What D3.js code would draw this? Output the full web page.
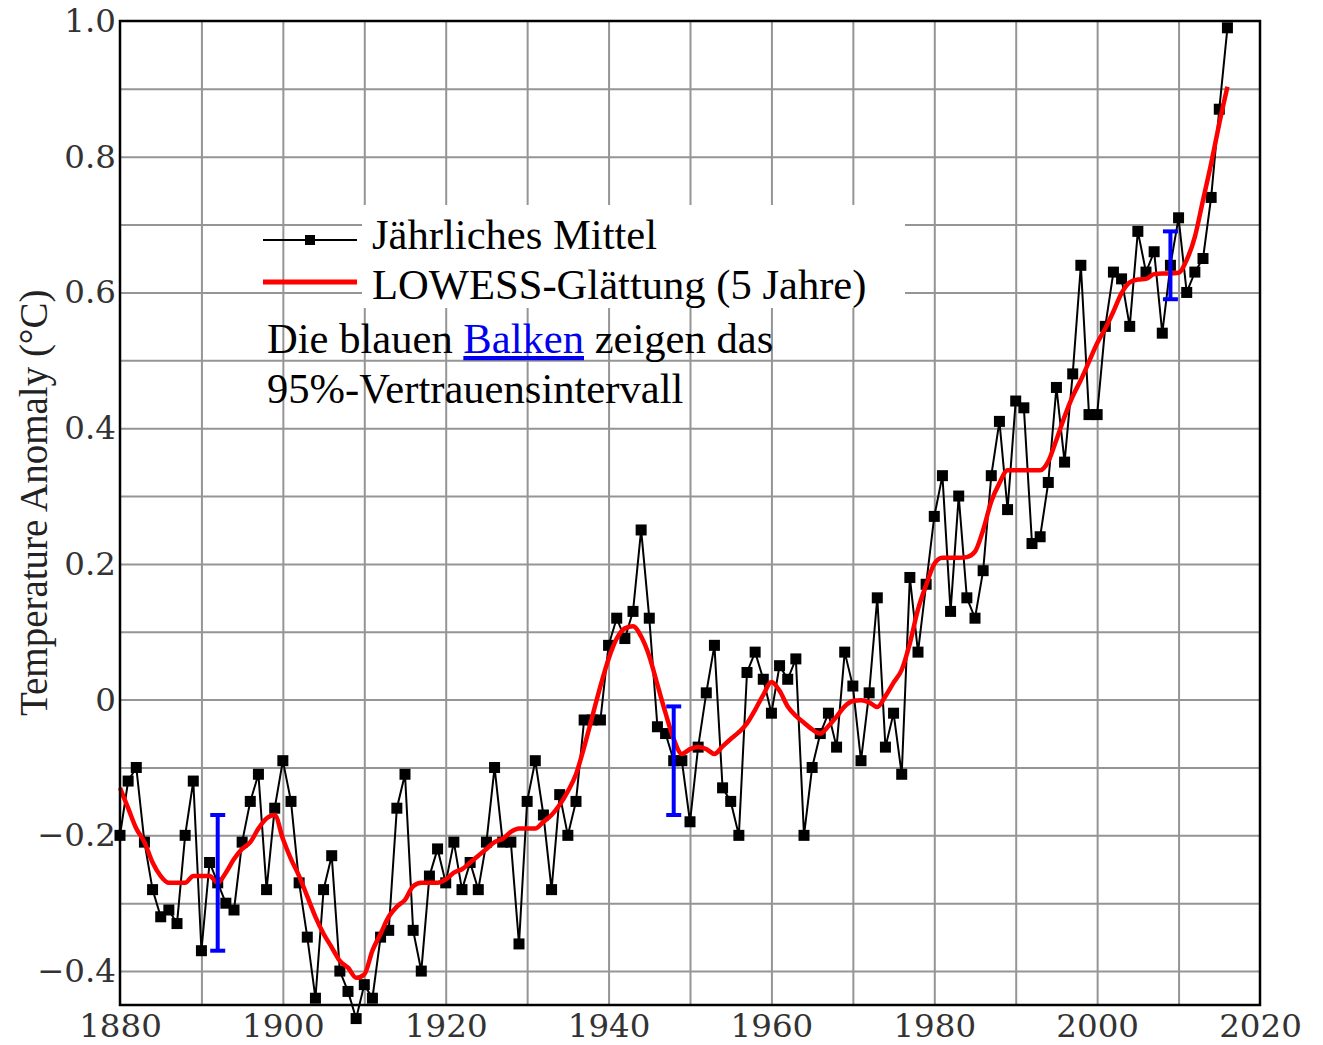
<!DOCTYPE html>
<html>
<head>
<meta charset="utf-8">
<script src="https://cdn.jsdelivr.net/npm/d3@7"></script>
<style>
  body { margin: 0; background: #fff; }
  svg { display: block; }
</style>
</head>
<body>
<svg id="chart"></svg>
<script>
// Jahresmittel der Temperaturanomalie, 1880-2016
var firstYear = 1880;
var annual = [
  -0.20, -0.12, -0.10, -0.21, -0.28, -0.32, -0.31, -0.33, -0.20, -0.12,
  -0.37, -0.24, -0.27, -0.30, -0.31, -0.21, -0.15, -0.11, -0.28, -0.16,
  -0.09, -0.15, -0.27, -0.35, -0.44, -0.28, -0.23, -0.40, -0.43, -0.47,
  -0.42, -0.44, -0.35, -0.34, -0.16, -0.11, -0.34, -0.40, -0.26, -0.22,
  -0.27, -0.21, -0.28, -0.24, -0.28, -0.21, -0.10, -0.21, -0.21, -0.36,
  -0.15, -0.09, -0.17, -0.28, -0.14, -0.20, -0.15, -0.03, -0.03, -0.03,
   0.08,  0.12,  0.09,  0.13,  0.25,  0.12, -0.04, -0.05, -0.09, -0.09,
  -0.18, -0.07,  0.01,  0.08, -0.13, -0.15, -0.20,  0.04,  0.07,  0.03,
  -0.02,  0.05,  0.03,  0.06, -0.20, -0.10, -0.05, -0.02, -0.07,  0.07,
   0.02, -0.09,  0.01,  0.15, -0.07, -0.02, -0.11,  0.18,  0.07,  0.17,
   0.27,  0.33,  0.13,  0.30,  0.15,  0.12,  0.19,  0.33,  0.41,  0.28,
   0.44,  0.43,  0.23,  0.24,  0.32,  0.46,  0.35,  0.48,  0.64,  0.42,
   0.42,  0.55,  0.63,  0.62,  0.55,  0.69,  0.63,  0.66,  0.54,  0.64,
   0.71,  0.60,  0.63,  0.65,  0.74,  0.87,  0.99
];
// LOWESS-Glättung (5 Jahre)
var lowess = [
  -0.13, -0.16, -0.19, -0.21, -0.24, -0.26, -0.27, -0.27, -0.27, -0.26,
  -0.26, -0.26, -0.27, -0.255, -0.235, -0.22, -0.21, -0.19, -0.175, -0.17,
  -0.205, -0.235, -0.26, -0.29, -0.32, -0.345, -0.365, -0.385, -0.395, -0.41,
  -0.405, -0.37, -0.345, -0.32, -0.305, -0.295, -0.275, -0.27, -0.27, -0.27,
  -0.265, -0.255, -0.25, -0.24, -0.23, -0.22, -0.21, -0.205, -0.195, -0.19,
  -0.19, -0.19, -0.18, -0.17, -0.155, -0.135, -0.11, -0.07, -0.025, 0.02,
  0.06, 0.09, 0.105, 0.108, 0.093, 0.064, 0.022, -0.02, -0.058, -0.08,
  -0.073, -0.07, -0.073, -0.08, -0.069, -0.058, -0.048, -0.035, -0.015, 0.007,
  0.026, 0.013, -0.01, -0.024, -0.034, -0.044, -0.05, -0.039, -0.025, -0.01,
  -0.002, -0.001, -0.004, -0.011, 0.005, 0.025, 0.044, 0.083, 0.133, 0.169,
  0.20, 0.209, 0.209, 0.209, 0.21, 0.218, 0.25, 0.292, 0.319, 0.338,
  0.338, 0.338, 0.338, 0.338, 0.351, 0.383, 0.417, 0.447, 0.471, 0.498,
  0.525, 0.547, 0.572, 0.599, 0.615, 0.619, 0.62, 0.627, 0.628, 0.628,
  0.629, 0.648, 0.682, 0.736, 0.79, 0.849, 0.903
];
// 95%-Vertrauensintervalle
var errYears = [1892, 1948, 2009];
var errLow = [-0.37, -0.17, 0.59];
var errHigh = [-0.17, -0.01, 0.69];

var xTicks = [1880, 1900, 1920, 1940, 1960, 1980, 2000, 2020];
var yTicks = [-0.4, -0.2, 0, 0.2, 0.4, 0.6, 0.8, 1.0];

var years = d3.range(firstYear, firstYear + annual.length);

var width = 1323, height = 1045;
var margin = { top: 21, right: 63, bottom: 40, left: 120 };
var innerW = width - margin.left - margin.right;
var innerH = height - margin.top - margin.bottom;

var svg = d3.select('#chart').attr('width', width).attr('height', height);
var g = svg.append('g').attr('transform', 'translate(' + margin.left + ',' + margin.top + ')');

var xScale = d3.scaleLinear().domain([1880, 2020]).range([0, innerW]);
var yScale = d3.scaleLinear().domain([-0.45, 1.0]).range([innerH, 0]);

// Gitter
g.append('g')
  .attr('class', 'grid')
  .attr('transform', 'translate(0,' + innerH + ')')
  .call(d3.axisBottom(xScale).tickValues(d3.range(1890, 2020, 10)).tickSize(-innerH).tickFormat(''));
g.append('g')
  .attr('class', 'grid')
  .call(d3.axisLeft(yScale).tickValues(d3.range(-4, 10).map(function(k) { return k / 10; })).tickSize(-innerW).tickFormat(''));
g.selectAll('.grid .domain').remove();
g.selectAll('.grid line').attr('stroke', '#959595').attr('stroke-width', 2);

// weißer Legendenhintergrund
svg.append('rect')
  .attr('x', 362).attr('y', 205)
  .attr('width', 543).attr('height', 103)
  .attr('fill', '#fff');

// Jahresmittel
var line = d3.line()
  .x(function(d, i) { return xScale(years[i]); })
  .y(function(d) { return yScale(d); });

g.append('path')
  .attr('d', line(annual))
  .attr('fill', 'none')
  .attr('stroke', '#000')
  .attr('stroke-width', 2);

g.append('g')
  .selectAll('rect')
  .data(annual)
  .enter()
  .append('rect')
  .attr('x', function(d, i) { return xScale(years[i]) - 5.5; })
  .attr('y', function(d) { return yScale(d) - 5.5; })
  .attr('width', 11)
  .attr('height', 11)
  .attr('fill', '#000');

// LOWESS
var smooth = d3.line()
  .x(function(d, i) { return xScale(years[i]); })
  .y(function(d) { return yScale(d); })
  .curve(d3.curveMonotoneX);

g.append('path')
  .attr('d', smooth(lowess))
  .attr('fill', 'none')
  .attr('stroke', '#f00')
  .attr('stroke-width', 4.5)
  .attr('stroke-linejoin', 'round');

// Fehlerbalken
var eb = g.append('g').attr('stroke', '#00f').attr('stroke-width', 4);
errYears.forEach(function(yr, i) {
  var x = xScale(yr);
  eb.append('line').attr('x1', x).attr('x2', x).attr('y1', yScale(errLow[i])).attr('y2', yScale(errHigh[i]));
  eb.append('line').attr('x1', x - 7.5).attr('x2', x + 7.5).attr('y1', yScale(errLow[i])).attr('y2', yScale(errLow[i]));
  eb.append('line').attr('x1', x - 7.5).attr('x2', x + 7.5).attr('y1', yScale(errHigh[i])).attr('y2', yScale(errHigh[i]));
});

// Rahmen
g.append('rect')
  .attr('width', innerW).attr('height', innerH)
  .attr('fill', 'none')
  .attr('stroke', '#000')
  .attr('stroke-width', 2.5);

// Achsenbeschriftung
var fmt = function(d) { return d === 0 ? '0' : d3.format('.1f')(d); };
var xAxis = g.append('g')
  .attr('transform', 'translate(0,' + innerH + ')')
  .call(d3.axisBottom(xScale).tickValues(xTicks).tickSize(0).tickPadding(9).tickFormat(d3.format('d')));
var yAxis = g.append('g')
  .call(d3.axisLeft(yScale).tickValues(yTicks).tickSize(0).tickPadding(4).tickFormat(fmt));
[xAxis, yAxis].forEach(function(a) {
  a.select('.domain').remove();
  a.selectAll('text')
    .attr('font-family', 'DejaVu Serif')
    .attr('font-size', 32.5)
    .attr('fill', '#333');
});
xAxis.selectAll('text').attr('dy', '0.71em');

svg.append('text')
  .attr('transform', 'translate(47,' + (margin.top + yScale(0.29)) + ') rotate(-90)')
  .attr('text-anchor', 'middle')
  .attr('font-family', 'Liberation Serif')
  .attr('font-size', 39)
  .attr('fill', '#222')
  .text('Temperature Anomaly (°C)');

// Legende
svg.append('line')
  .attr('x1', 263).attr('x2', 357).attr('y1', 240).attr('y2', 240)
  .attr('stroke', '#000').attr('stroke-width', 2);
svg.append('rect')
  .attr('x', 305).attr('y', 235).attr('width', 10).attr('height', 10)
  .attr('fill', '#000');
svg.append('line')
  .attr('x1', 263).attr('x2', 357).attr('y1', 282).attr('y2', 282)
  .attr('stroke', '#f00').attr('stroke-width', 5);

var legendFont = { family: 'Liberation Serif', size: 42.6 };
svg.append('text')
  .attr('x', 372).attr('y', 249)
  .attr('font-family', legendFont.family).attr('font-size', legendFont.size)
  .text('Jährliches Mittel');
svg.append('text')
  .attr('x', 372).attr('y', 299)
  .attr('font-family', legendFont.family).attr('font-size', legendFont.size)
  .text('LOWESS-Glättung (5 Jahre)');

var note = svg.append('text')
  .attr('x', 267).attr('y', 353)
  .attr('font-family', legendFont.family).attr('font-size', legendFont.size);
note.append('tspan').text('Die blauen ');
note.append('tspan')
  .attr('fill', '#00e')
  .style('text-decoration', 'underline')
  .text('Balken');
note.append('tspan').text(' zeigen das');
svg.append('text')
  .attr('x', 267).attr('y', 403)
  .attr('font-family', legendFont.family).attr('font-size', legendFont.size)
  .text('95%-Vertrauensintervall');
</script>
</body>
</html>
